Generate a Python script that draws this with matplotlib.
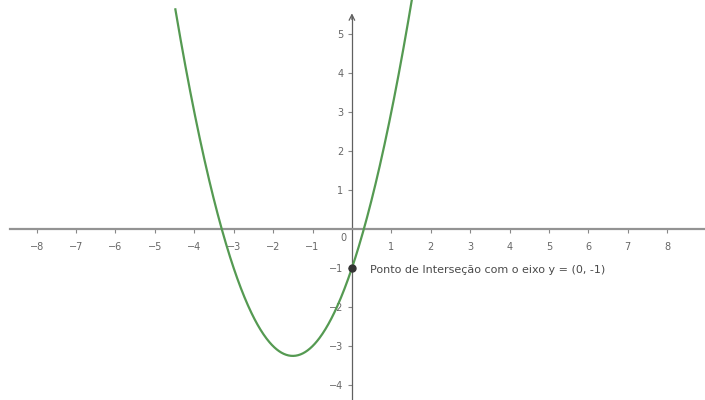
import numpy as np
import matplotlib.pyplot as plt

# f(x) = a x^2 + b x + c
coef = [1.0, 3.0, -1.0]
x_ticks = [-8, -7, -6, -5, -4, -3, -2, -1, 1, 2, 3, 4, 5, 6, 7, 8]
y_ticks = [-4, -3, -2, -1, 1, 2, 3, 4, 5]
point = (0, -1)
point_label = "Ponto de Interseção com o eixo y = (0, -1)"

fig = plt.figure(figsize=(7.05, 4.0), dpi=100)
ax = fig.add_axes([0, 0, 1, 1])
ax.set_xlim(-8.93, 8.96)
ax.set_ylim(-4.38, 5.87)

for s in ['top', 'right']:
    ax.spines[s].set_visible(False)
ax.spines['bottom'].set_position(('data', 0))
ax.spines['left'].set_position(('data', 0))
ax.spines['bottom'].set_bounds(-8.68, 8.96)
ax.spines['left'].set_bounds(-4.38, 5.45)
ax.spines['bottom'].set_color('#939393')
ax.spines['bottom'].set_linewidth(1.6)
ax.spines['left'].set_color('#606060')
ax.spines['left'].set_linewidth(0.9)

ax.set_xticks(x_ticks)
ax.set_yticks(y_ticks)
ax.tick_params(axis='x', direction='out', length=3, width=0.8,
               colors='#888888', labelsize=7, labelcolor='#666666', pad=6)
ax.tick_params(axis='y', direction='out', length=3, width=0.8,
               colors='#888888', labelsize=7, labelcolor='#666666', pad=3)
ax.text(-0.22, -0.22, '0', fontsize=7, color='#666666', ha='center', va='center')

# arrow on top of the y axis
ax.annotate('', xy=(0, 5.6), xytext=(0, 5.3),
            arrowprops=dict(arrowstyle='->', color='#606060', lw=0.9))

a, b, c = coef
xs = np.linspace(-4.48, 1.55, 400)
ax.plot(xs, a * xs**2 + b * xs + c, color='#559a52', lw=1.6, zorder=3)

ax.plot(*point, 'o', color='#333333', ms=5, zorder=4)
ax.text(point[0] + 0.45, point[1] - 0.05, point_label, fontsize=8,
        color='#4a4a4a', ha='left', va='center')

fig.savefig('out.png', dpi=100)
